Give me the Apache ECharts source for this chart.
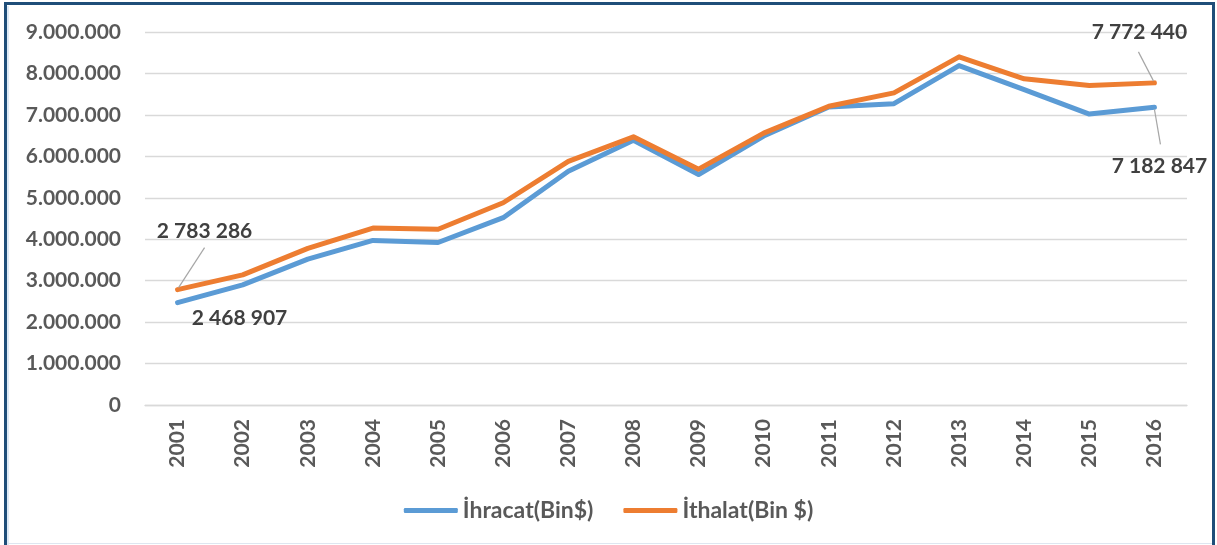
<!DOCTYPE html>
<html>
<head>
<meta charset="utf-8">
<script src="https://cdn.jsdelivr.net/npm/echarts@6/dist/echarts.min.js"></script>
<style>
html,body{margin:0;padding:0;background:#fff;}
#c{width:1217px;height:545px;}
</style>
</head>
<body>
<div id="c"></div>
<script>
const years = ['2001','2002','2003','2004','2005','2006','2007','2008','2009','2010','2011','2012','2013','2014','2015','2016'];
const ihracat = [2468907, 2900000, 3520000, 3970000, 3920000, 4520000, 5640000, 6390000, 5560000, 6490000, 7190000, 7270000, 8190000, 7610000, 7020000, 7182847];
const ithalat = [2783286, 3140000, 3780000, 4270000, 4240000, 4880000, 5880000, 6470000, 5690000, 6560000, 7210000, 7530000, 8400000, 7870000, 7710000, 7772440];
const seriesNames = ['İhracat(Bin$)', 'İthalat(Bin $)'];
const yTicks = { min: 0, max: 9000000, interval: 1000000 };

const FONT = 'Lato';
const dotFmt = v => String(v).replace(/\B(?=(\d{3})+(?!\d))/g, '.');
const spaceFmt = v => String(v).replace(/\B(?=(\d{3})+(?!\d))/g, ' ');

const labelStyle = { color: '#404040', fontFamily: FONT, fontWeight: 'bold', fontSize: 21 };

function buildData(values, labelled) {
  return values.map((v, i) => {
    const cfg = labelled[i];
    if (!cfg) return v;
    return {
      value: v,
      label: Object.assign({ show: true, position: cfg.pos, distance: 5, formatter: p => spaceFmt(p.value) }, labelStyle)
    };
  });
}

const last = years.length - 1;
const expLabels = { 0: { pos: 'bottom' }, [last]: { pos: 'bottom' } };
const impLabels = { 0: { pos: 'top' }, [last]: { pos: 'top' } };

// label shifts (dx, dy) relative to default label position
const shifts = {
  '0-0': [62, 0],
  ['0-' + last]: [5, 43],
  '1-0': [27, -43],
  ['1-' + last]: [-15, -35]
};
const layoutFn = p => { const s = shifts[p.seriesIndex + '-' + p.dataIndex]; return s ? { dx: s[0], dy: s[1] } : {}; };

// leader lines: series, data index, start offset, end offset (relative to the data point)
const leaders = [
  { s: 1, i: 0, a: [1, -2], b: [27, -42] },
  { s: 1, i: last, a: [-1, -2], b: [-16, -31] },
  { s: 0, i: last, a: [0, 2], b: [6, 37] }
];

const chart = echarts.init(document.getElementById('c'), null, { renderer: 'canvas' });
chart.setOption({
  animation: false,
  backgroundColor: '#ffffff',
  grid: { left: 145, right: 30, top: 32, bottom: 140, containLabel: false },
  legend: {
    bottom: 18,
    left: 'center',
    itemWidth: 54,
    itemHeight: 5,
    itemGap: 30,
    icon: 'roundRect',
    textStyle: { color: '#595959', fontFamily: FONT, fontWeight: 'bold', fontSize: 23 },
    data: seriesNames
  },
  xAxis: {
    type: 'category',
    data: years,
    boundaryGap: true,
    axisLine: { show: true, lineStyle: { color: '#D9D9D9', width: 1.3 } },
    axisTick: { show: false },
    axisLabel: { rotate: 90, margin: 14, color: '#595959', fontFamily: FONT, fontWeight: 'bold', fontSize: 21 }
  },
  yAxis: {
    type: 'value',
    min: yTicks.min, max: yTicks.max, interval: yTicks.interval,
    axisLine: { show: false },
    axisTick: { show: false },
    splitLine: { show: true, lineStyle: { color: '#D9D9D9', width: 1.3 } },
    axisLabel: { margin: 24, color: '#595959', fontFamily: FONT, fontWeight: 'bold', fontSize: 21, formatter: dotFmt }
  },
  series: [
    {
      name: seriesNames[0], type: 'line', data: buildData(ihracat, expLabels),
      symbol: 'circle', symbolSize: 0, showSymbol: true,
      lineStyle: { color: '#5B9BD5', width: 5, cap: 'round', join: 'round' },
      itemStyle: { color: '#5B9BD5' },
      label: { show: false },
      labelLayout: layoutFn,
      z: 2
    },
    {
      name: seriesNames[1], type: 'line', data: buildData(ithalat, impLabels),
      symbol: 'circle', symbolSize: 0, showSymbol: true,
      lineStyle: { color: '#ED7D31', width: 5, cap: 'round', join: 'round' },
      itemStyle: { color: '#ED7D31' },
      label: { show: false },
      labelLayout: layoutFn,
      z: 3
    }
  ]
});

const seriesValues = [ihracat, ithalat];
const graphics = [
  { type: 'rect', silent: true, z: 100, shape: { x: 5.5, y: 3.5, width: 1208, height: 560 }, style: { fill: 'none', stroke: '#1F4E79', lineWidth: 3 } },
  { type: 'line', silent: true, z: 100, shape: { x1: 8, y1: 6, x2: 8, y2: 545 }, style: { stroke: '#BDD7EE', lineWidth: 1 } },
  { type: 'line', silent: true, z: 100, shape: { x1: 8, y1: 543.5, x2: 1212, y2: 543.5 }, style: { stroke: '#DEE6F0', lineWidth: 1 } }
];
leaders.forEach(l => {
  const p = chart.convertToPixel({ seriesIndex: l.s }, [l.i, seriesValues[l.s][l.i]]);
  graphics.push({
    type: 'line', silent: true, z: 50,
    shape: { x1: p[0] + l.a[0], y1: p[1] + l.a[1], x2: p[0] + l.b[0], y2: p[1] + l.b[1] },
    style: { stroke: '#A6A6A6', lineWidth: 1.2 }
  });
});
chart.setOption({ graphic: graphics });
</script>
</body>
</html>
